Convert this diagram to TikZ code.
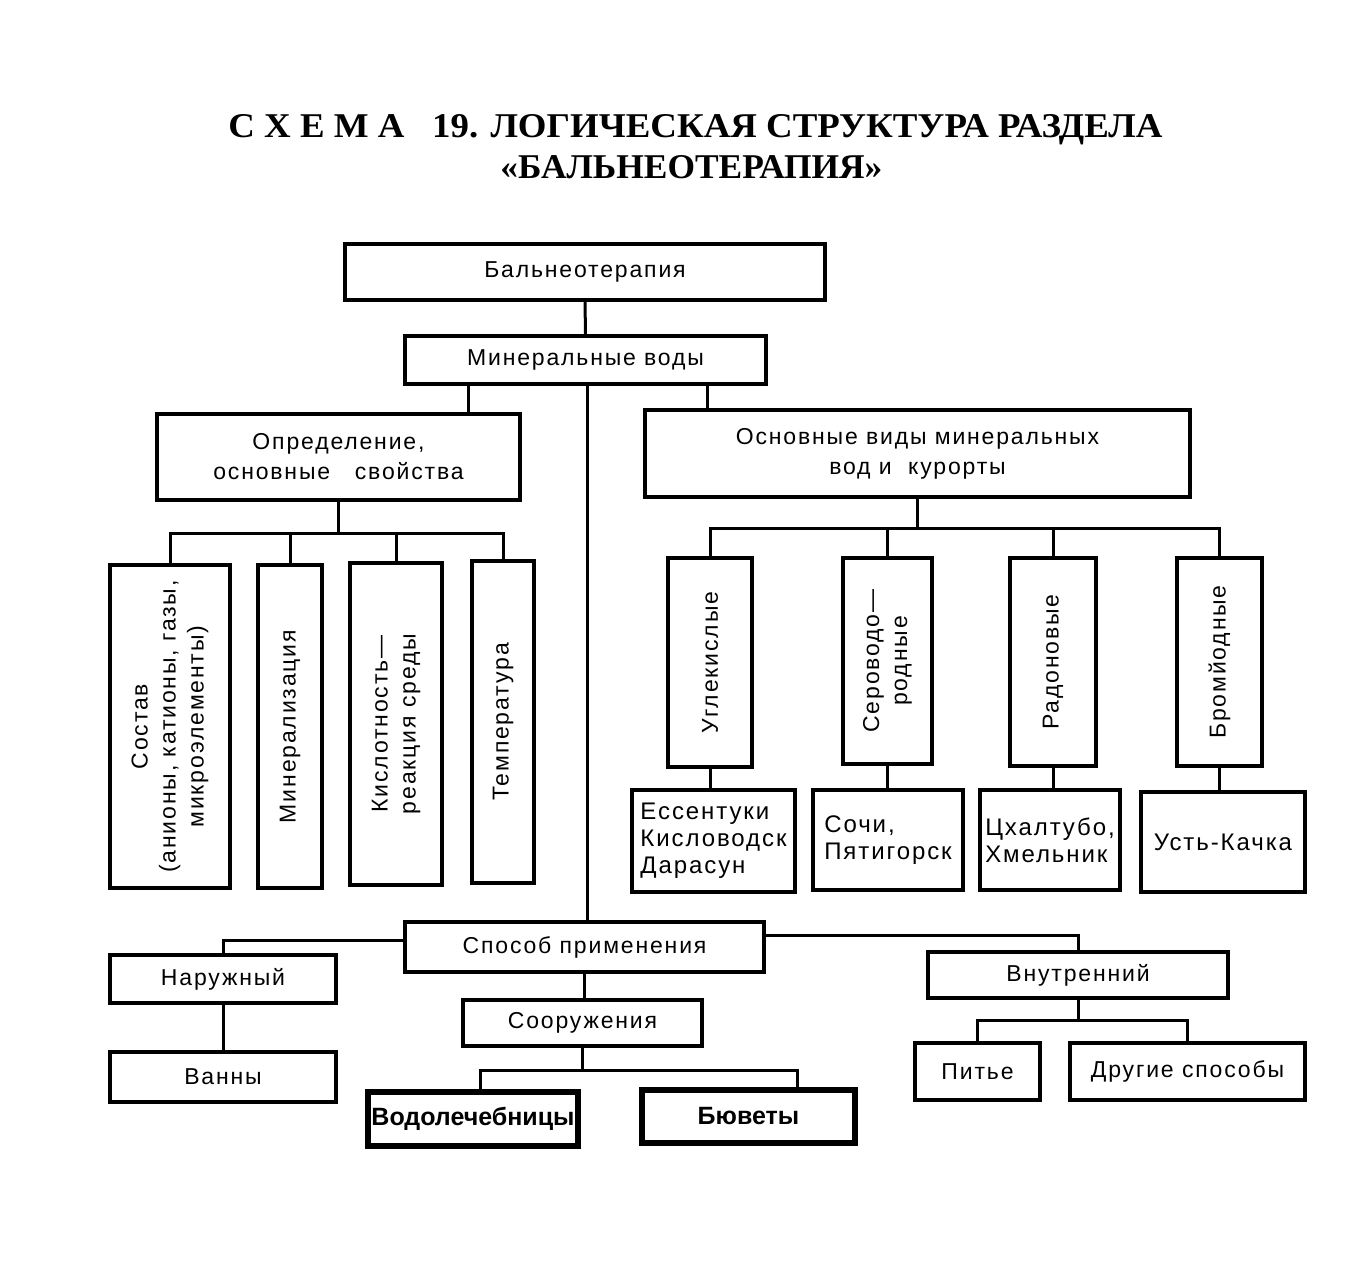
\documentclass[tikz,border=0pt]{standalone}
\usepackage{fontspec}
\usepackage{graphicx}
\setmainfont{Liberation Sans}[LetterSpace=8]
\newfontfamily\titlefont{Liberation Serif}
\newfontfamily\boldbox{Liberation Sans}[LetterSpace=0]
\tikzset{
  box/.style={draw, line width=2pt, inner sep=1pt, align=center,
    font=\fontsize{11.5}{15}\selectfont},
  vbox/.style={box, rotate=90, font=\fontsize{11.5}{14}\selectfont},
  city/.style={box, align=left, font=\fontsize{12}{13.5}\selectfont},
  heavy/.style={line width=2.6pt, font=\boldbox\fontsize{12.5}{14}\selectfont\bfseries},
  conn/.style={line width=1.5pt},
}
% horizontal box from pixel corners
\newcommand\bx[7][]{\node[box,minimum width={(#5-#3)*0.5pt},minimum height={(#6-#4)*0.5pt},#1] (#2) at ({(#3+#5)/2},{(#4+#6)/2}) {#7};}
% vertical (rotated) box from pixel corners
\newcommand\vbx[7][]{\node[vbox,minimum width={(#6-#4)*0.5pt},minimum height={(#5-#3)*0.5pt},#1] (#2) at ({(#3+#5)/2},{(#4+#6)/2}) {#7};}
\begin{document}
\begin{tikzpicture}[x=0.5pt,y=-0.5pt]
\useasboundingbox (0,0) rectangle (1361,1266);
% title
\node[anchor=base west, inner sep=0] (t1) at (228,137)
  {\resizebox{467pt}{11.5pt}{\titlefont\bfseries С\ Х\ Е\ М\ А\ \ \ 19. ЛОГИЧЕСКАЯ СТРУКТУРА РАЗДЕЛА}};
\node[anchor=base west, inner sep=0] (t2) at (500,178)
  {\resizebox{191pt}{11.5pt}{\titlefont\bfseries «БАЛЬНЕОТЕРАПИЯ»}};
% top
\bx{bal}{345}{244}{825}{300}{Бальнеотерапия}
\bx{min}{405}{336}{766}{384}{Минеральные воды}
\bx{opr}{157}{414}{520}{500}{Определение,\\основные\ \ \ свойства}
\bx{osn}{645}{410}{1190}{497}{Основные виды минеральных\\вод и\ \ курорты}
% properties
\vbx{sos}{110}{565}{230}{888}{Состав\\(анионы, катионы, газы,\\микроэлементы)}
\vbx{mnr}{258}{565}{322}{888}{Минерализация}
\vbx{kis}{350}{563}{442}{885}{Кислотность—\\реакция среды}
\vbx{tem}{472}{561}{534}{883}{Температура}
% types
\vbx{ugl}{668}{558}{752}{767}{Углекислые}
\vbx{ser}{843}{558}{932}{764}{Сероводо—\\родные}
\vbx{rad}{1010}{558}{1096}{766}{Радоновые}
\vbx{bro}{1177}{558}{1262}{766}{Бромйодные}
% resorts
\bx[city]{ess}{632}{790}{795}{892}{Ессентуки\\Кисловодск\\Дарасун}
\bx[city]{soc}{813}{790}{963}{890}{Сочи,\\Пятигорск}
\bx[city]{chk}{980}{790}{1120}{890}{Цхалтубо,\\Хмельник}
\bx[city]{ust}{1141}{792}{1305}{892}{Усть-Качка}
% application
\bx{spo}{405}{922}{764}{972}{Способ применения}
\bx{nar}{110}{955}{336}{1003}{Наружный}
\bx{van}{110}{1052}{336}{1102}{Ванны}
\bx{soo}{463}{1000}{702}{1046}{Сооружения}
\bx[heavy]{vod}{368}{1092}{578}{1146}{Водолечебницы}
\bx[heavy]{bju}{642}{1090}{855}{1143}{Бюветы}
\bx{vnu}{928}{952}{1228}{998}{Внутренний}
\bx{pit}{915}{1043}{1040}{1100}{Питье}
\bx{dru}{1070}{1043}{1305}{1100}{Другие способы}
% connectors
\draw[conn] (bal.south) -- (min.north);
\draw[conn] (468,0 |- min.south) -- (468,0 |- opr.north);
\draw[conn] (707,0 |- min.south) -- (707,0 |- osn.north);
\draw[conn] (587,0 |- min.south) -- (587,0 |- spo.north);
% definition tree
\draw[conn] (opr.south) -- (opr.south |- 0,533);
\draw[conn] (sos.east) -- (sos.east |- 0,533) -- (tem.east |- 0,533) -- (tem.east);
\draw[conn] (mnr.east) -- (mnr.east |- 0,533);
\draw[conn] (kis.east) -- (kis.east |- 0,533);
% types tree
\draw[conn] (osn.south) -- (osn.south |- 0,528);
\draw[conn] (ugl.east) -- (ugl.east |- 0,528) -- (bro.east |- 0,528) -- (bro.east);
\draw[conn] (ser.east) -- (ser.east |- 0,528);
\draw[conn] (rad.east) -- (rad.east |- 0,528);
\draw[conn] (ugl.west) -- (ugl.west |- ess.north);
\draw[conn] (ser.west) -- (ser.west |- soc.north);
\draw[conn] (rad.west) -- (rad.west |- chk.north);
\draw[conn] (bro.west) -- (bro.west |- ust.north);
% application tree
\draw[conn] (spo.west |- 0,940) -| (nar.north);
\draw[conn] (spo.east |- 0,935) -| (vnu.north);
\draw[conn] (nar.south) -- (nar.south |- van.north);
\draw[conn] (spo.south) -- (spo.south |- soo.north);
\draw[conn] (soo.south) -- (soo.south |- 0,1070);
\draw[conn] (480,0 |- vod.north) |- (797,1070) -- (797,0 |- bju.north);
\draw[conn] (vnu.south) -- (vnu.south |- 0,1020);
\draw[conn] (pit.north) |- (dru.north |- 0,1020) -- (dru.north);
\end{tikzpicture}
\end{document}
